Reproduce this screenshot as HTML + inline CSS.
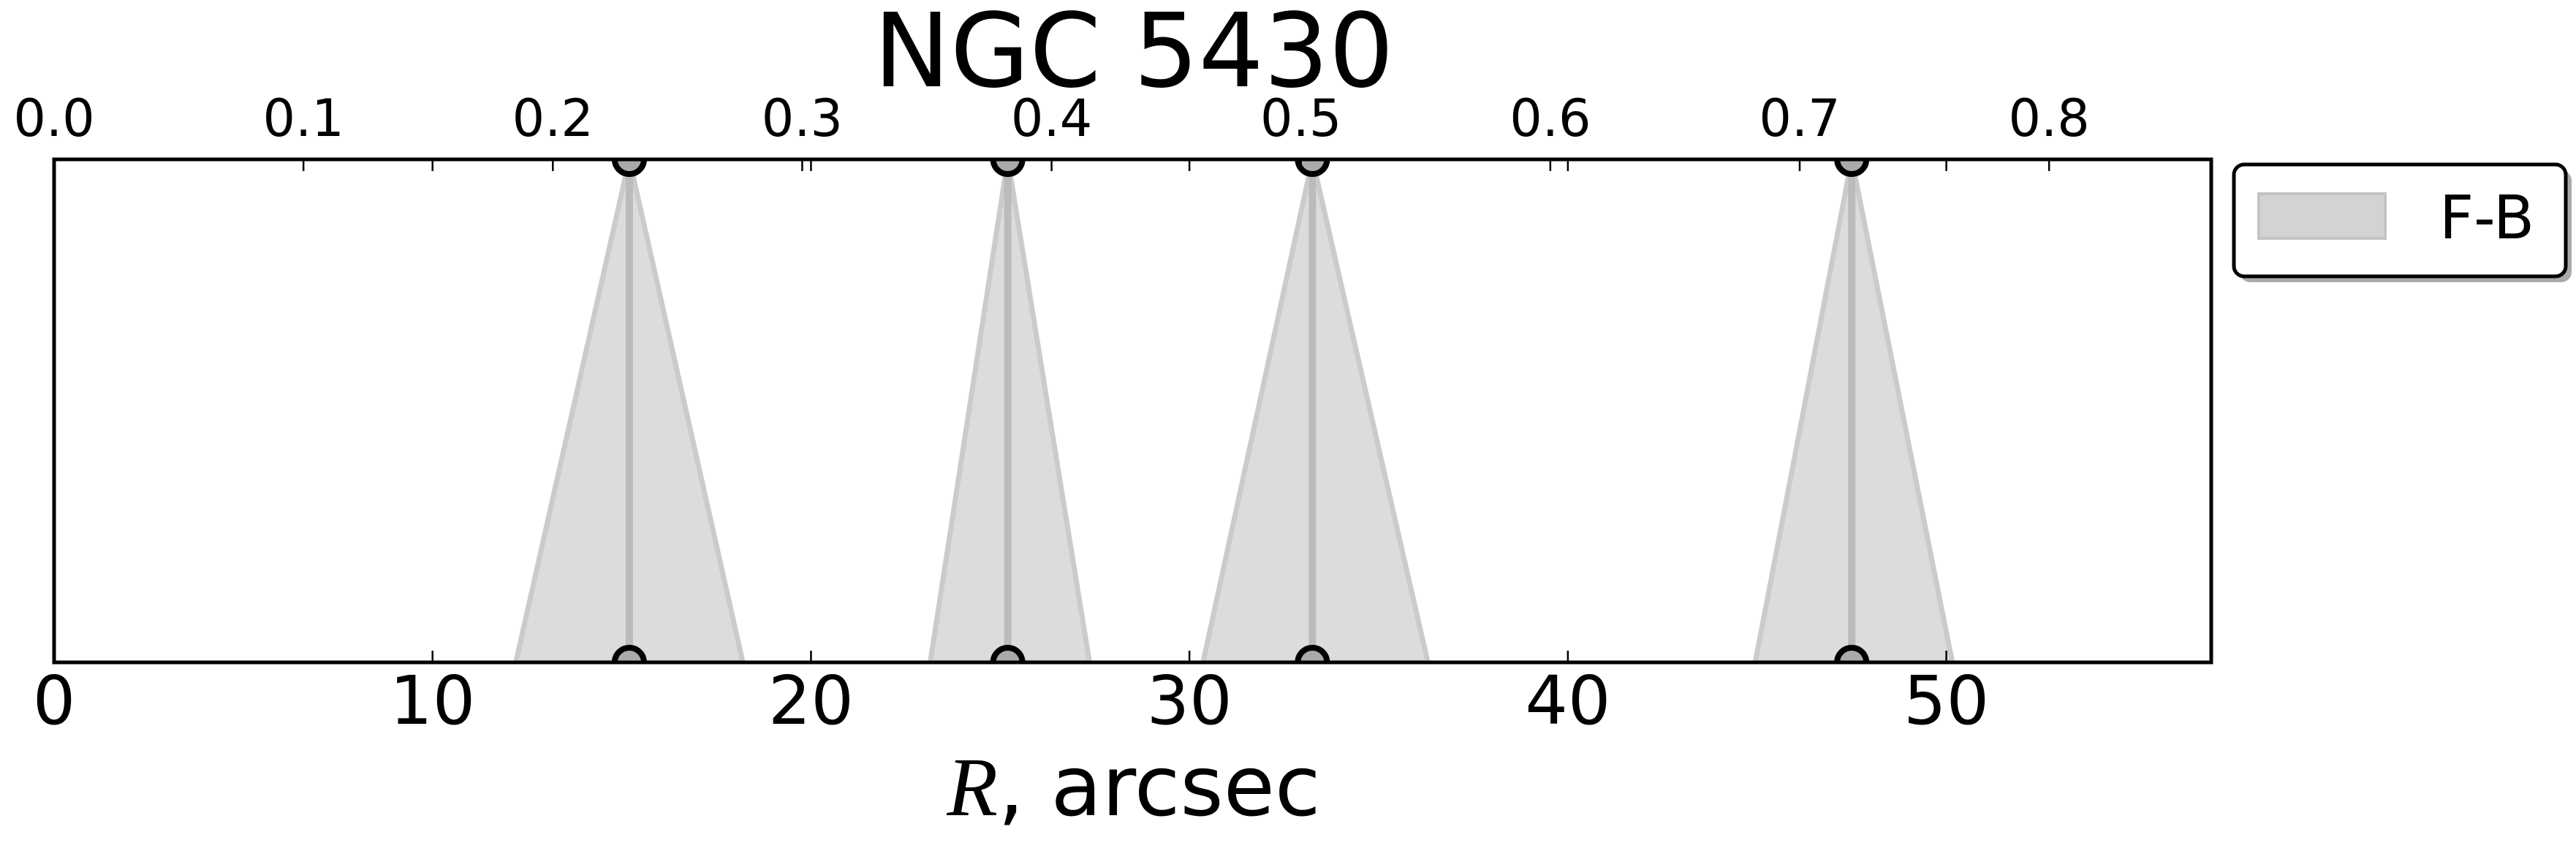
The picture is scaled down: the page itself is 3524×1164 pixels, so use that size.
<!DOCTYPE html>
<html><head><meta charset="utf-8"><style>
html,body{margin:0;padding:0;background:#fff;}
svg{display:block;font-family:"DejaVu Sans","Liberation Sans",sans-serif;}
</style></head><body>
<svg id="chart" width="3524" height="1164" viewBox="0 0 3524 1164" xmlns="http://www.w3.org/2000/svg">
<defs><clipPath id="clip"><rect x="74" y="218" width="2951" height="688"/></clipPath></defs>
<text x="1551" y="118" font-size="140" text-anchor="middle">NGC 5430</text>
<g id="marks" clip-path="url(#clip)"></g>
<rect x="74" y="218" width="2951" height="688" fill="none" stroke="#000" stroke-width="5"/>
<g id="axes"></g>
<text x="1551" y="1115" font-size="114" text-anchor="middle"><tspan font-family="Liberation Serif, serif" font-style="italic">R</tspan>, arcsec</text>
<g>
<rect x="3064" y="233" width="454" height="153" rx="14" fill="#aaaaaa"/>
<rect x="3056" y="225" width="454" height="153" rx="14" fill="#fff" stroke="#000" stroke-width="5"/>
<rect x="3090" y="265" width="173" height="61" fill="#d3d3d3" stroke="#c4c4c4" stroke-width="4"/>
<text x="3337" y="326" font-size="82">F-B</text>
</g>
</svg>
<script>
const centers = [15.2, 25.2, 33.25, 47.5];
const lefts = [12.2, 23.15, 30.36, 44.95];
const rights = [18.2, 27.36, 36.3, 50.16];
const bottomTicks = [0, 10, 20, 30, 40, 50];
const topTicks = [0.0, 0.1, 0.2, 0.3, 0.4, 0.5, 0.6, 0.7, 0.8];
const topTickLabels = ["0.0","0.1","0.2","0.3","0.4","0.5","0.6","0.7","0.8"];
const X0=74, X1=3025, Y0=218, Y1=906, XMAX=57, TMAX=57*(0.1/ (341/51.75));
const sx = v => X0 + (v/XMAX)*(X1-X0);
const tx = v => X0 + (v/TMAX)*(X1-X0);
const NS="http://www.w3.org/2000/svg";
function mk(tag, attrs, parent){const e=document.createElementNS(NS,tag);for(const k in attrs)e.setAttribute(k,attrs[k]);parent.appendChild(e);return e;}
const marks=document.getElementById('marks'), axes=document.getElementById('axes');
centers.forEach((c,i)=>{
  const p=mk('polygon',{points:`${sx(lefts[i])},${Y1} ${sx(c)},${Y0} ${sx(rights[i])},${Y1}`,fill:'#dcdcdc',stroke:'#cbcbcb','stroke-width':7},marks);
  
  
  const l=mk('line',{x1:sx(c),x2:sx(c),y1:Y0,y2:Y1,stroke:'#bbbbbb','stroke-width':10},marks);
  
  
  [Y0,Y1].forEach((y,j)=>{
    const m=mk('circle',{cx:sx(c),cy:y,r:20,fill:'#aaaaaa',stroke:'#000','stroke-width':8},marks);
    
    
  });
});
bottomTicks.forEach(v=>{
  const x=sx(v);
  mk('line',{x1:x,x2:x,y1:Y1,y2:Y1-16,stroke:'#000','stroke-width':2.5},axes);
  mk('line',{x1:x,x2:x,y1:Y0,y2:Y0+16,stroke:'#000','stroke-width':2.5},axes);
  const t=mk('text',{x:x,y:990,'font-size':92,'text-anchor':'middle'},axes);
  t.textContent=v;
  
  
});
topTicks.forEach((v,i)=>{
  const x=tx(v);
  mk('line',{x1:x,x2:x,y1:Y0,y2:Y0+16,stroke:'#000','stroke-width':2.5},axes);
  const t=mk('text',{x:x,y:186,'font-size':70,'text-anchor':'middle'},axes);
  t.textContent=topTickLabels[i];
  
  
});
</script>
</body></html>
